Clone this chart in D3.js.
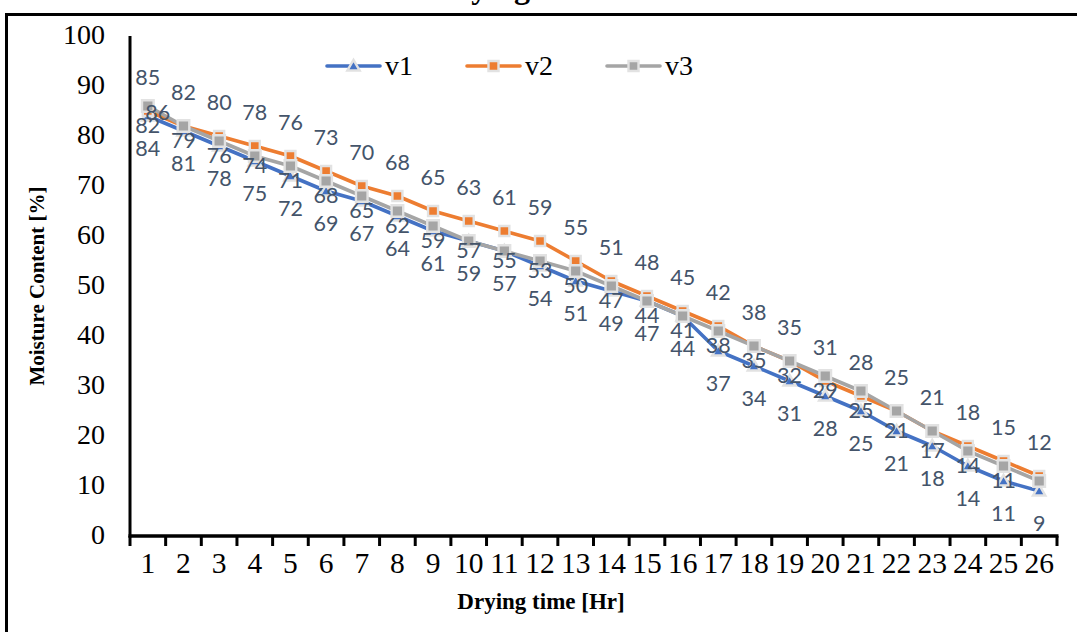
<!DOCTYPE html>
<html>
<head>
<meta charset="utf-8">
<script src="https://cdn.jsdelivr.net/npm/d3@7"></script>
<style>
  html, body { margin: 0; padding: 0; background: #fff; }
  svg { display: block; }
</style>
</head>
<body>
<svg id="chart" width="1077" height="632"></svg>
<script>
// Drying hours (category axis)
const hours = ["1","2","3","4","5","6","7","8","9","10","11","12","13","14","15","16","17","18","19","20","21","22","23","24","25","26"];
// Moisture content [%] for the three samples
const v1 = [84, 81, 78, 75, 72, 69, 67, 64, 61, 59, 57, 54, 51, 49, 47, 44, 37, 34, 31, 28, 25, 21, 18, 14, 11, 9];
const v2 = [85, 82, 80, 78, 76, 73, 70, 68, 65, 63, 61, 59, 55, 51, 48, 45, 42, 38, 35, 31, 28, 25, 21, 18, 15, 12];
const v3 = [86, 82, 79, 76, 74, 71, 68, 65, 62, 59, 57, 55, 53, 50, 47, 44, 41, 38, 35, 32, 29, 25, 21, 17, 14, 11];
const seriesNames = ["v1", "v2", "v3"];
const yTicks = [0, 10, 20, 30, 40, 50, 60, 70, 80, 90, 100];

const svg = d3.select("#chart");
const W = 1077, H = 632;
const plot = { left: 130, right: 1057, top: 36, bottom: 536 };
const serif = "'Liberation Serif', 'Times New Roman', serif";

svg.append("rect").attr("width", W).attr("height", H).attr("fill", "#fff");

// chart title, sitting above the frame (only its descenders reach the page)
svg.append("text")
  .attr("x", 434).attr("y", -2)
  .attr("font-family", serif).attr("font-weight", "bold").attr("font-size", 32)
  .text("Drying curve");

// outer frame
svg.append("path")
  .attr("d", `M6.5,${H + 5} V14.5 H${W + 5}`)
  .attr("fill", "none").attr("stroke", "#000").attr("stroke-width", 3);

const x = d3.scaleBand().domain(hours).range([plot.left, plot.right]).padding(0);
const cx = h => x(h) + x.bandwidth() / 2;
const y = d3.scaleLinear().domain([0, 100]).range([plot.bottom, plot.top]);

// y axis
const yAxis = svg.append("g")
  .attr("transform", `translate(${plot.left},0)`)
  .call(d3.axisLeft(y).tickValues(yTicks).tickSize(0).tickPadding(25));
yAxis.select(".domain").remove();
yAxis.selectAll("text")
  .attr("font-family", serif)
  .attr("font-size", 28).attr("fill", "#000").attr("dy", "0.28em");
svg.append("line")
  .attr("x1", plot.left).attr("x2", plot.left)
  .attr("y1", plot.top).attr("y2", plot.bottom + 1.5)
  .attr("stroke", "#000").attr("stroke-width", 3);

// x axis
const xAxis = svg.append("g")
  .attr("transform", `translate(0,${plot.bottom})`)
  .call(d3.axisBottom(x).tickSize(0).tickPadding(21));
xAxis.select(".domain").remove();
xAxis.selectAll("text")
  .attr("font-family", serif)
  .attr("font-size", 29.5).attr("fill", "#000").attr("dy", "0.55em");
svg.append("line")
  .attr("x1", plot.left - 1.5).attr("x2", plot.right + 1.5)
  .attr("y1", plot.bottom).attr("y2", plot.bottom)
  .attr("stroke", "#000").attr("stroke-width", 3.5);
const tickPos = hours.map(h => x(h)).concat([plot.right]);
svg.append("g").selectAll("line").data(tickPos).join("line")
  .attr("x1", d => d).attr("x2", d => d)
  .attr("y1", plot.bottom).attr("y2", plot.bottom + 10)
  .attr("stroke", "#000").attr("stroke-width", 3);

// axis titles
svg.append("text")
  .attr("transform", `translate(44,${(plot.top + plot.bottom) / 2}) rotate(-90)`)
  .attr("text-anchor", "middle")
  .attr("font-family", serif)
  .attr("font-weight", "bold").attr("font-size", 21)
  .text("Moisture Content [%]");
svg.append("text")
  .attr("x", 541).attr("y", 609)
  .attr("text-anchor", "middle")
  .attr("font-family", serif)
  .attr("font-weight", "bold").attr("font-size", 23)
  .text("Drying time [Hr]");

// series styles
const styles = {
  v1: { color: "#4472C4", shape: d3.symbolTriangle, size: 66 },
  v2: { color: "#ED7D31", shape: d3.symbolSquare, size: 100 },
  v3: { color: "#A5A5A5", shape: d3.symbolSquare, size: 135 }
};
const data = { v1, v2, v3 };

const line = d3.line().x((d, i) => cx(hours[i])).y(d => y(d));

seriesNames.forEach(name => {
  const st = styles[name];
  const g = svg.append("g").attr("class", "series-" + name);
  g.append("path").datum(data[name])
    .attr("d", line).attr("fill", "none")
    .attr("stroke", st.color).attr("stroke-width", 3.6)
    .attr("stroke-linejoin", "round").attr("stroke-linecap", "round");
  g.selectAll("path.mk").data(data[name]).join("path")
    .attr("class", "mk")
    .attr("transform", (d, i) => `translate(${cx(hours[i])},${y(d) + (name === "v1" ? 1 : 0)})`)
    .attr("d", d3.symbol().type(st.shape).size(st.size))
    .attr("fill", st.color).attr("stroke", "#e2e2e2").attr("stroke-width", 2.4);
});

// data labels
const labelFont = "Lato, Calibri, 'Noto Sans', sans-serif";
const labels = svg.append("g")
  .attr("font-family", labelFont).attr("font-size", 21.5)
  .attr("fill", "#44546A").attr("text-anchor", "middle");

// v2 labels sit above each point
labels.selectAll("text.l2").data(v2).join("text").attr("class", "l2")
  .attr("x", (d, i) => cx(hours[i]))
  .attr("y", d => y(d) - 34).attr("dy", "0.35em")
  .text(d => d);
// v1 labels sit below each point
labels.selectAll("text.l1").data(v1).join("text").attr("class", "l1")
  .attr("x", (d, i) => cx(hours[i]))
  .attr("y", d => y(d) + 32).attr("dy", "0.35em")
  .text(d => d);
// v3 labels are set off to the left, one hour back (the first one to the right)
labels.selectAll("text.l3").data(v3).join("text").attr("class", "l3")
  .attr("x", (d, i) => i === 0 ? cx(hours[0]) + 10 : cx(hours[i - 1]))
  .attr("y", (d, i) => y(d) + (i === 0 ? 6 : -1)).attr("dy", "0.35em")
  .text(d => d);

// legend
const legend = svg.append("g").attr("transform", "translate(327,66)");
seriesNames.forEach((name, k) => {
  const st = styles[name];
  const g = legend.append("g").attr("transform", `translate(${k * 140},0)`);
  g.append("line").attr("x1", 0).attr("x2", 53).attr("y1", 0).attr("y2", 0)
    .attr("stroke", st.color).attr("stroke-width", 3.6).attr("stroke-linecap", "round");
  g.append("path")
    .attr("transform", `translate(26.5,${name === "v1" ? 1 : 0})`)
    .attr("d", d3.symbol().type(st.shape).size(name === "v3" ? 100 : st.size))
    .attr("fill", st.color).attr("stroke", "#e2e2e2").attr("stroke-width", 2.4);
  g.append("text").attr("x", 58).attr("y", 0).attr("dy", "0.32em")
    .attr("font-family", serif)
    .attr("font-size", 28).attr("fill", "#000")
    .text(name);
});
</script>
</body>
</html>
